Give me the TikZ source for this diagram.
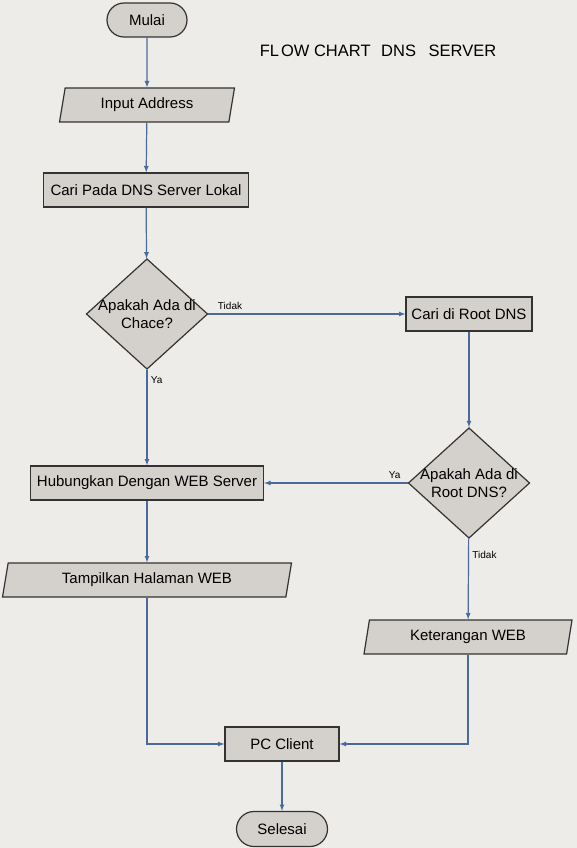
\documentclass[tikz,border=0pt]{standalone}
\usepackage{fontspec}
\setmainfont{Liberation Sans}
\usetikzlibrary{shapes.geometric,shapes.misc}
\definecolor{bg}{HTML}{EEECE9}
\definecolor{boxfill}{HTML}{D4D0CC}
\definecolor{boxline}{HTML}{333333}
\definecolor{flow}{HTML}{4A6A9C}
\begin{document}
\begin{tikzpicture}[x=1pt,y=-1pt]
    \tikzset{>=latex}
    \tikzset{
      base/.style={draw=boxline,fill=boxfill,line width=1.2pt,font=\fontsize{15}{18}\selectfont,inner sep=0pt},
      terminal/.style={base,rounded rectangle,minimum width=80pt,minimum height=34pt},
      process/.style={base,rectangle,minimum height=34pt},
      io/.style={base,trapezium,trapezium left angle=68,trapezium right angle=112,trapezium stretches body,minimum height=34pt},
      decision/.style={base,diamond,aspect=1.1,inner xsep=-4pt,inner ysep=0pt,align=center},
      flowline/.style={draw=flow,line width=1.2pt,->},
      answer/.style={font=\fontsize{10}{12}\selectfont}
    }
    \fill[bg] (0,0) rectangle (577,848);
    \useasboundingbox (0,0) rectangle (577,848);
    % title
    \node (judul) at (378,51) {\fontsize{16.5}{20}\selectfont FL\kern2pt OW CHART\hspace{6pt} DNS\hspace{8pt} SERVER};
    % nodes
    \node[terminal] (mulai) at (147,20) {Mulai};
    \node[io, minimum width=175pt] (input) at (147,105) {Input Address};
    \node[process, minimum width=205pt] (lokal) at (146,190) {Cari Pada DNS Server Lokal};
    \node[decision] (chace) at (147,314) {Apakah Ada di\\Chace?};
    \node[process, minimum width=126pt] (root) at (469,314) {Cari di Root DNS};
    \node[decision] (rootdns) at (469,483) {Apakah Ada di\\Root DNS?};
    \node[process, minimum width=233pt] (hubung) at (147,483) {Hubungkan Dengan WEB Server};
    \node[io, minimum width=289pt] (tampil) at (147,580) {Tampilkan Halaman WEB};
    \node[io, minimum width=208pt] (ket) at (468,637) {Keterangan WEB};
    \node[process, minimum width=114pt] (pc) at (282,744) {PC Client};
    \node[terminal, minimum width=91pt, minimum height=35pt] (selesai) at (282,829) {Selesai};
    % connectors
    \draw[flowline] (mulai) -- (input);
    \draw[flowline] (input) -- (lokal);
    \draw[flowline] (lokal) -- (chace);
    \draw[flowline] (chace) -- node[answer, above, pos=0.11] {Tidak} (root);
    \draw[flowline] (chace) -- node[answer, right, pos=0.11] {Ya} (hubung);
    \draw[flowline] (root) -- (rootdns);
    \draw[flowline] (rootdns) -- node[answer, above, pos=0.09] {Ya} (hubung);
    \draw[flowline] (rootdns) -- node[answer, right, pos=0.2] {Tidak} (ket);
    \draw[flowline] (hubung) -- (tampil);
    \draw[flowline] (tampil) |- (pc);
    \draw[flowline] (ket) |- (pc);
    \draw[flowline] (pc) -- (selesai);
\end{tikzpicture}
\end{document}
